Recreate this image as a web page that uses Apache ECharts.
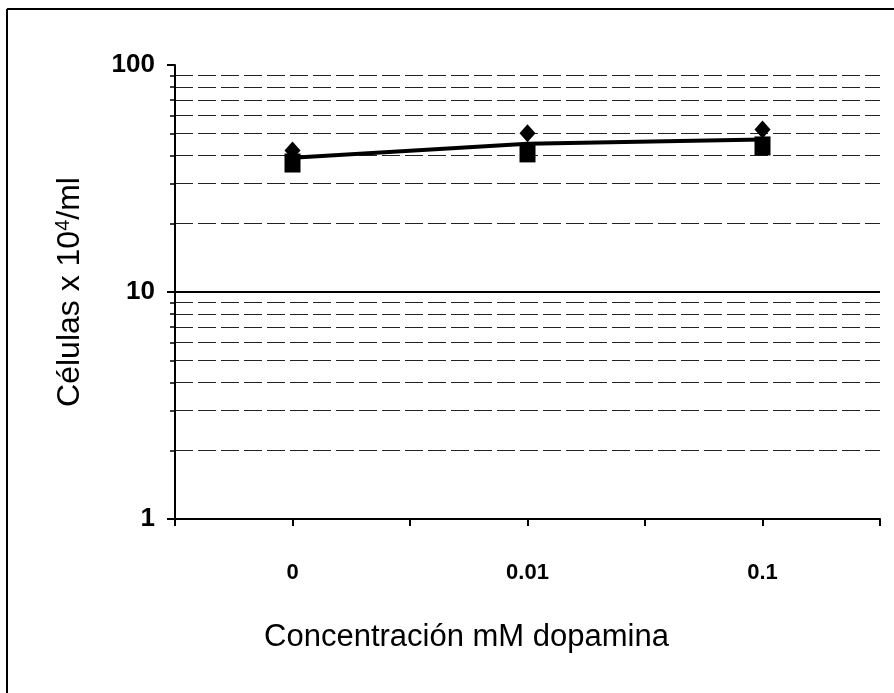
<!DOCTYPE html>
<html>
<head>
<meta charset="utf-8">
<script src="https://cdn.jsdelivr.net/npm/echarts@6/dist/echarts.min.js"></script>
<style>
  html, body { margin: 0; padding: 0; background: #fff; }
  #chart { width: 894px; height: 693px; }
</style>
</head>
<body>
<div id="chart"></div>
<script>
// Dopamine concentrations (mM) shown on the x axis
const categories = ['0', '0.01', '0.1'];
// Cell counts (x 10^4 / ml), two replicate determinations
const replicaA = [42, 50, 52];
const replicaB = [37, 41, 44];
// Mean of the replicates, joined by the trend line
const mean = [39, 45, 47];

const FONT = '"Liberation Sans", Arial, sans-serif';

function toPoints(values) {
  return values.map((v, i) => [i, v]);
}

const chart = echarts.init(document.getElementById('chart'), null, { renderer: 'canvas' });

chart.setOption({
  backgroundColor: '#ffffff',
  animation: false,
  grid: { left: 175, right: 14, top: 65, bottom: 174 },
  graphic: [
    { type: 'line', shape: { x1: 7, y1: 9, x2: 894, y2: 9 }, style: { stroke: '#000', lineWidth: 2 } },
    { type: 'line', shape: { x1: 7, y1: 9, x2: 7, y2: 693 }, style: { stroke: '#000', lineWidth: 2 } }
  ],
  xAxis: {
    type: 'value',
    min: -0.5,
    max: 2.5,
    interval: 0.5,
    name: 'Concentración mM dopamina',
    nameLocation: 'middle',
    nameGap: 103,
    nameTextStyle: { fontFamily: FONT, fontSize: 31, color: '#000', padding: [0, 122, 0, 0] },
    axisLine: { show: true, onZero: false, lineStyle: { color: '#000', width: 2 } },
    axisTick: { show: true, inside: false, length: 7, lineStyle: { color: '#000', width: 2 } },
    splitLine: { show: false },
    axisLabel: {
      margin: 43,
      fontFamily: FONT,
      fontSize: 22,
      fontWeight: 'bold',
      color: '#000',
      showMinLabel: true,
      showMaxLabel: true,
      formatter: function (v) {
        const i = Math.round(v);
        return Math.abs(v - i) < 1e-6 && categories[i] !== undefined ? categories[i] : '';
      }
    }
  },
  yAxis: {
    type: 'log',
    logBase: 10,
    min: 1,
    max: 100,
    name: '{t|Células x 10}{s|4}{t|/ml}',
    nameLocation: 'middle',
    nameRotate: 90,
    nameGap: 88,
    nameTextStyle: {
      fontFamily: FONT,
      color: '#000',
      rich: {
        t: { fontFamily: FONT, fontSize: 32, color: '#000' },
        s: { fontFamily: FONT, fontSize: 20, color: '#000', verticalAlign: 'top', padding: [0, 0, 14, 0] }
      }
    },
    axisLine: { show: true, onZero: false, lineStyle: { color: '#000', width: 2 } },
    axisTick: { show: true, inside: false, length: 8, lineStyle: { color: '#000', width: 2 } },
    minorTick: { show: true, splitNumber: 9, length: 5, lineStyle: { color: '#000', width: 1.5 } },
    axisLabel: {
      margin: 20,
      fontFamily: FONT,
      fontSize: 26,
      fontWeight: 'bold',
      color: '#000'
    },
    splitLine: { show: true, showMaxLine: false, lineStyle: { color: '#000', width: 2 } },
    minorSplitLine: { show: true, lineStyle: { color: '#222', width: 1, type: [18, 5] } }
  },
  series: [
    {
      name: 'Media',
      type: 'line',
      data: toPoints(mean),
      symbol: 'none',
      lineStyle: { color: '#000', width: 4 },
      z: 2
    },
    {
      name: 'Réplica A',
      type: 'scatter',
      data: toPoints(replicaA),
      symbol: 'diamond',
      symbolSize: [16, 18],
      itemStyle: { color: '#000', opacity: 1 },
      z: 3
    },
    {
      name: 'Réplica B',
      type: 'scatter',
      data: toPoints(replicaB),
      symbol: 'rect',
      symbolSize: [16, 19],
      itemStyle: { color: '#000', opacity: 1 },
      z: 3
    }
  ]
});
</script>
</body>
</html>
